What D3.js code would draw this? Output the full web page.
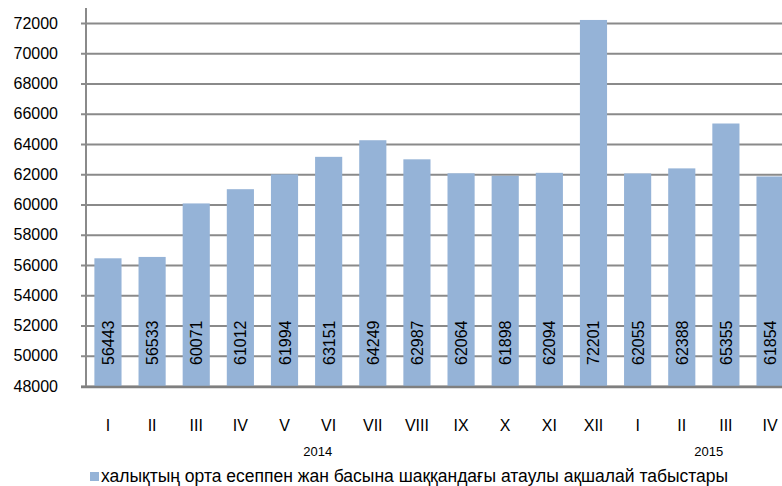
<!DOCTYPE html>
<html>
<head>
<meta charset="utf-8">
<script src="https://cdn.jsdelivr.net/npm/d3@7"></script>
<style>
  body { margin: 0; background: #fff; }
  svg text { font-family: "Liberation Sans", Arial, sans-serif; fill: #000; }
</style>
</head>
<body>
<div id="chart"></div>
<script>
// months, grouped by year
var months = ["I","II","III","IV","V","VI","VII","VIII","IX","X","XI","XII","I","II","III","IV"];
var years = ["2014","2014","2014","2014","2014","2014","2014","2014","2014","2014","2014","2014","2015","2015","2015","2015"];
var income = [56443,56533,60071,61012,61994,63151,64249,62987,62064,61898,62094,72201,62055,62388,65355,61854];
var yTicks = [48000,50000,52000,54000,56000,58000,60000,62000,64000,66000,68000,70000,72000];
var seriesName = "халықтың орта есеппен жан басына шаққандағы атаулы ақшалай табыстары";

var W = 782, H = 486;
var plotL = 86, plotR = 792, plotT = 23, plotB = 386;

var svg = d3.select("#chart").append("svg")
	.attr("width", W)
	.attr("height", H);

var keys = months.map(function (m, i) { return i; });

var x = d3.scaleBand()
	.domain(keys)
	.range([plotL, plotR])
	.paddingInner(0.385)
	.paddingOuter(0.19);

var y = d3.scaleLinear()
	.domain([48000, 72000])
	.range([plotB, plotT]);

// gridlines + ticks
var yAxis = d3.axisLeft(y)
	.tickValues(yTicks)
	.tickSize(0)
	.tickFormat(d3.format("d"));

var gy = svg.append("g")
	.attr("transform", "translate(" + plotL + ",0)")
	.call(yAxis);
gy.select(".domain").remove();
gy.selectAll(".tick line")
	.attr("x1", -5)
	.attr("x2", W - plotL)
	.attr("stroke", "#8a8a8a")
	.attr("stroke-width", 2);
gy.selectAll(".tick text")
	.attr("x", -28)
	.attr("font-size", 16)
	.attr("text-anchor", "end");

// bars
svg.append("g").selectAll("rect")
	.data(income)
	.join("rect")
	.attr("x", function (d, i) { return x(i); })
	.attr("width", x.bandwidth())
	.attr("y", function (d) { return y(d); })
	.attr("height", function (d) { return y(48000) - y(d); })
	.attr("fill", "#95b3d7");

// value labels, inside base, rotated
svg.append("g").selectAll("text")
	.data(income)
	.join("text")
	.attr("transform", function (d, i) {
		return "translate(" + (x(i) + x.bandwidth() / 2 + 6) + "," + (plotB - 21) + ") rotate(-90)";
	})
	.attr("font-size", 16)
	.text(function (d) { return d; });

// axis lines
svg.append("line")
	.attr("x1", plotL).attr("x2", plotL)
	.attr("y1", 8).attr("y2", plotB + 1)
	.attr("stroke", "#8a8a8a").attr("stroke-width", 2);
svg.append("line")
	.attr("x1", plotL - 5).attr("x2", W)
	.attr("y1", plotB + 1).attr("y2", plotB + 1)
	.attr("stroke", "#7f7f7f").attr("stroke-width", 2.5);

// month labels
svg.append("g").selectAll("text")
	.data(months)
	.join("text")
	.attr("x", function (d, i) { return x(i) + x.bandwidth() / 2; })
	.attr("y", 431)
	.attr("text-anchor", "middle")
	.attr("font-size", 16)
	.text(function (d) { return d; });

// year labels
var yearGroups = d3.groups(keys, function (i) { return years[i]; });
svg.append("g").selectAll("text")
	.data(yearGroups)
	.join("text")
	.attr("x", function (g) {
		var idx = g[1];
		if (g[0] === "2014") return x(idx[5]) - 11 + x.bandwidth() / 2;
		return d3.mean(idx, function (i) { return x(i) + x.bandwidth() / 2; }) + 5;
	})
	.attr("y", 456)
	.attr("text-anchor", "middle")
	.attr("font-size", 13)
	.text(function (g) { return g[0]; });

// legend
var legend = svg.append("g").attr("transform", "translate(90,472)");
legend.append("rect")
	.attr("width", 9).attr("height", 9)
	.attr("fill", "#95b3d7");
legend.append("text")
	.attr("x", 11).attr("y", 10)
	.attr("font-size", 17.5)
	.text(seriesName);
</script>
</body>
</html>
